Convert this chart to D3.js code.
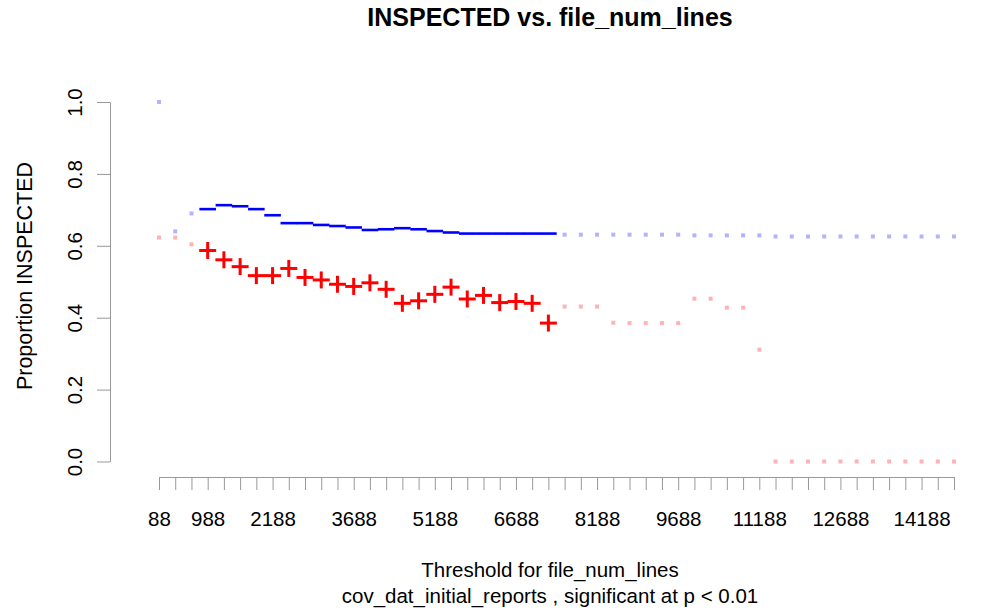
<!DOCTYPE html>
<html>
<head>
<meta charset="utf-8">
<script src="https://cdn.jsdelivr.net/npm/d3@7"></script>
<style>
  body { margin: 0; background: #fff; }
  text { font-family: "Liberation Sans", Arial, sans-serif; fill: #000; }
</style>
</head>
<body>
<svg id="chart" width="987" height="613"></svg>
<script>
// thresholds for file_num_lines
const thresholds = [
  88, 388, 688, 988, 1288, 1588, 1888, 2188, 2488, 2788,
  3088, 3388, 3688, 3988, 4288, 4588, 4888, 5188, 5488, 5788,
  6088, 6388, 6688, 6988, 7288, 7588, 7888, 8188, 8488, 8788,
  9088, 9388, 9688, 9988, 10288, 10588, 10888, 11188, 11488, 11788,
  12088, 12388, 12688, 12988, 13288, 13588, 13888, 14188, 14488, 14788
];

// proportion inspected above threshold (blue)
const aboveValues = [
  1.0, 0.640, 0.690, 0.702, 0.713, 0.710, 0.702, 0.685, 0.663, 0.663,
  0.658, 0.655, 0.651, 0.644, 0.646, 0.649, 0.646, 0.641, 0.637, 0.634,
  0.634, 0.634, 0.634, 0.634, 0.634, 0.631, 0.631, 0.631, 0.631, 0.631,
  0.631, 0.631, 0.631, 0.629, 0.629, 0.629, 0.629, 0.629, 0.626, 0.626,
  0.626, 0.626, 0.626, 0.626, 0.626, 0.626, 0.626, 0.626, 0.626, 0.626
];

// proportion inspected below threshold (red)
const belowValues = [
  0.623, 0.623, 0.604, 0.587, 0.561, 0.542, 0.517, 0.517, 0.537, 0.512,
  0.505, 0.493, 0.487, 0.497, 0.479, 0.440, 0.447, 0.465, 0.485, 0.452,
  0.462, 0.442, 0.445, 0.440, 0.385, 0.431, 0.431, 0.431, 0.386, 0.385,
  0.385, 0.385, 0.385, 0.453, 0.453, 0.428, 0.428, 0.311, 0, 0,
  0, 0, 0, 0, 0, 0, 0, 0, 0, 0
];

// significant at p < 0.01
const significant = [
  0, 0, 0, 1, 1, 1, 1, 1, 1, 1,
  1, 1, 1, 1, 1, 1, 1, 1, 1, 1,
  1, 1, 1, 1, 1, 0, 0, 0, 0, 0,
  0, 0, 0, 0, 0, 0, 0, 0, 0, 0,
  0, 0, 0, 0, 0, 0, 0, 0, 0, 0
];

const xLabels = [88, 988, 2188, 3688, 5188, 6688, 8188, 9688, 11188, 12688, 14188];
const yTicks = [0, 0.2, 0.4, 0.6, 0.8, 1.0];

const svg = d3.select("#chart");
const axisColor = "#999";

const x = d3.scaleLinear().domain([88, 14788]).range([159, 954]);
const y = d3.scaleLinear().domain([0, 1]).range([461.5, 102]);

// title
svg.append("text")
  .attr("x", 550).attr("y", 26)
  .attr("text-anchor", "middle")
  .style("font-size", "25px").style("font-weight", "bold")
  .text("INSPECTED vs. file_num_lines");

// x axis
const xAxis = svg.append("g")
  .attr("transform", "translate(0,477)")
  .call(d3.axisBottom(x)
    .tickValues(thresholds)
    .tickSize(13)
    .tickSizeOuter(0)
    .tickPadding(21)
    .tickFormat(d => xLabels.includes(d) ? d : ""));
xAxis.select(".domain").attr("stroke", axisColor);
xAxis.selectAll(".tick line").attr("stroke", axisColor);
xAxis.selectAll("text").style("font-size", "20.5px").style("font-family", "Liberation Sans, Arial, sans-serif").attr("fill", "#000");

// y axis
const yAxis = svg.append("g")
  .attr("transform", "translate(110,0)")
  .call(d3.axisLeft(y)
    .tickValues(yTicks)
    .tickSize(13)
    .tickSizeOuter(0)
    .tickFormat(d3.format(".1f")));
yAxis.select(".domain").attr("stroke", axisColor);
yAxis.selectAll(".tick line").attr("stroke", axisColor);
yAxis.selectAll("text")
  .attr("x", null).attr("dy", null)
  .attr("text-anchor", "middle")
  .attr("transform", "translate(-28,0) rotate(-90)")
  .style("font-size", "20.5px").style("font-family", "Liberation Sans, Arial, sans-serif").attr("fill", "#000");

// axis titles
svg.append("text")
  .attr("transform", "translate(32,276) rotate(-90)")
  .attr("text-anchor", "middle")
  .style("font-size", "21.5px")
  .text("Proportion INSPECTED");

svg.append("text")
  .attr("x", 550).attr("y", 577)
  .attr("text-anchor", "middle")
  .style("font-size", "20.5px")
  .text("Threshold for file_num_lines");

svg.append("text")
  .attr("x", 550).attr("y", 603)
  .attr("text-anchor", "middle")
  .style("font-size", "20.5px")
  .text("cov_dat_initial_reports , significant at p < 0.01");

const pts = thresholds.map((t, i) => ({ t: t, above: aboveValues[i], below: belowValues[i], sig: significant[i] }));

// non-significant points as faint squares
const faint = pts.filter(d => !d.sig);
svg.selectAll(".faintBlue").data(faint).enter().append("rect")
  .attr("class", "faintBlue")
  .attr("x", d => x(d.t) - 2).attr("y", d => y(d.above) - 2)
  .attr("width", 4).attr("height", 4)
  .attr("fill", "#b3b3ff");
svg.selectAll(".faintRed").data(faint).enter().append("rect")
  .attr("class", "faintRed")
  .attr("x", d => x(d.t) - 2).attr("y", d => y(d.below) - 2)
  .attr("width", 4).attr("height", 4)
  .attr("fill", "#ffb3b3");

// significant points: blue dashes and red crosses
const sig = pts.filter(d => d.sig);
svg.selectAll(".dash").data(sig).enter().append("line")
  .attr("class", "dash")
  .attr("x1", d => x(d.t) - 8.3).attr("x2", d => x(d.t) + 8.3)
  .attr("y1", d => y(d.above)).attr("y2", d => y(d.above))
  .attr("stroke", "#0000ff").attr("stroke-width", 2.6);

const cross = svg.selectAll(".cross").data(sig).enter().append("g")
  .attr("class", "cross")
  .attr("transform", d => `translate(${x(d.t)},${y(d.below)})`);
cross.append("line").attr("x1", -8.5).attr("x2", 8.5).attr("y1", 0).attr("y2", 0)
  .attr("stroke", "#ff0000").attr("stroke-width", 3);
cross.append("line").attr("x1", 0).attr("x2", 0).attr("y1", -8.5).attr("y2", 8.5)
  .attr("stroke", "#ff0000").attr("stroke-width", 3);
</script>
</body>
</html>
